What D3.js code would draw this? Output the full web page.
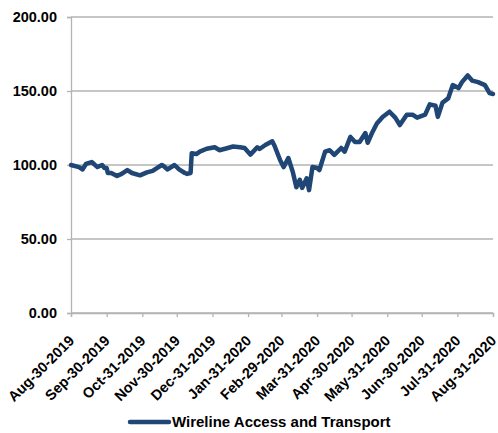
<!DOCTYPE html>
<html>
<head>
<meta charset="utf-8">
<script src="https://cdn.jsdelivr.net/npm/d3@7"></script>
<style>
    body { margin: 0; background: #fff; }
    text { font-family: "Liberation Sans", Arial, sans-serif; font-weight: bold; fill: #000; }
</style>
</head>
<body>
<div id="wrapper"></div>
<script>
const seriesName = "Wireline Access and Transport";

const dates = [
    "2019-08-30","2019-09-06","2019-09-09","2019-09-12","2019-09-17","2019-09-22","2019-09-26","2019-09-28",
    "2019-09-30","2019-10-01","2019-10-04","2019-10-09","2019-10-13","2019-10-18","2019-10-22","2019-10-29",
    "2019-11-04","2019-11-09","2019-11-13","2019-11-17","2019-11-19","2019-11-22","2019-11-28","2019-12-02",
    "2019-12-07","2019-12-09","2019-12-12","2019-12-13","2019-12-17","2019-12-20","2019-12-26","2020-01-02",
    "2020-01-06","2020-01-11","2020-01-18","2020-01-24","2020-01-28","2020-02-02","2020-02-08","2020-02-10",
    "2020-02-15","2020-02-21","2020-02-23","2020-02-28","2020-03-02","2020-03-06","2020-03-10","2020-03-13",
    "2020-03-16","2020-03-18","2020-03-22","2020-03-24","2020-03-27","2020-03-31","2020-04-02","2020-04-07",
    "2020-04-11","2020-04-15","2020-04-21","2020-04-24","2020-04-29","2020-05-03","2020-05-07","2020-05-12",
    "2020-05-14","2020-05-18","2020-05-22","2020-05-27","2020-06-02","2020-06-07","2020-06-11","2020-06-17",
    "2020-06-22","2020-06-26","2020-07-03","2020-07-07","2020-07-12","2020-07-14","2020-07-18","2020-07-23",
    "2020-07-27","2020-08-01","2020-08-04","2020-08-09","2020-08-13","2020-08-18","2020-08-24","2020-08-28",
    "2020-08-31"
];

const values = [
    100.0, 98.6, 97.0, 100.7, 102.0, 98.6, 100.0, 98.0,
    98.0, 94.6, 94.6, 92.6, 94.0, 96.6, 94.6, 93.0,
    95.0, 96.0, 98.0, 100.0, 99.0, 97.0, 100.0, 97.0,
    94.6, 94.0, 94.6, 108.0, 107.4, 109.0, 111.0, 112.0,
    110.0, 111.0, 112.5, 112.0, 111.5, 107.0, 112.0, 110.8,
    113.5, 116.0, 113.0, 103.0, 98.6, 104.7, 95.0, 85.0,
    90.0, 84.5, 91.0, 83.0, 98.6, 98.0, 96.6, 109.0,
    110.0, 106.8, 111.5, 109.0, 119.0, 115.5, 115.5, 121.6,
    115.0, 122.0, 128.0, 132.4, 136.0, 132.0, 127.0, 134.0,
    134.0, 132.0, 134.0, 141.0, 140.0, 132.5, 142.0, 145.0,
    154.0, 152.0, 156.0, 160.5, 157.0, 156.0, 154.0, 148.6,
    148.0
];

const tickDates = [
    "2019-08-30","2019-09-30","2019-10-31","2019-11-30","2019-12-31","2020-01-31","2020-02-29",
    "2020-03-31","2020-04-30","2020-05-31","2020-06-30","2020-07-31","2020-08-31"
];
const yTicks = [0, 50, 100, 150, 200];

const parse = d3.timeParse("%Y-%m-%d");
const fmt = d3.timeFormat("%b-%d-%Y");
const data = dates.map((d, i) => ({ date: parse(d), value: values[i] }));

const dimension = {
    width: 498,
    height: 433,
    margin: { top: 17, right: 5, bottom: 120, left: 71 }
};
dimension.boundedWidth = dimension.width - dimension.margin.left - dimension.margin.right;
dimension.boundedHeight = dimension.height - dimension.margin.top - dimension.margin.bottom;

const x = d3.scaleTime()
    .domain([parse(tickDates[0]), parse(tickDates[tickDates.length - 1])])
    .range([0, dimension.boundedWidth]);

const y = d3.scaleLinear()
    .domain([0, 200])
    .range([dimension.boundedHeight, 0]);

const svg = d3.select("#wrapper")
    .append("svg")
    .attr("width", dimension.width)
    .attr("height", dimension.height);

const bounds = svg.append("g")
    .attr("transform", `translate(${dimension.margin.left},${dimension.margin.top})`);

// horizontal gridlines
bounds.append("g")
    .selectAll("line")
    .data(yTicks)
    .enter()
    .append("line")
    .attr("x1", 0)
    .attr("x2", dimension.boundedWidth)
    .attr("y1", d => y(d))
    .attr("y2", d => y(d))
    .attr("stroke", "#b3b3b3")
    .attr("stroke-width", 1.3);

// y axis
const yAxis = bounds.append("g")
    .call(d3.axisLeft(y).tickValues(yTicks).tickSize(4).tickPadding(10).tickFormat(d3.format(".2f")));
yAxis.selectAll("path, line").attr("stroke", "#b3b3b3").attr("stroke-width", 1.3);
yAxis.selectAll("text").style("font-size", "14.5px").attr("fill", "#000");

// x axis
const xAxis = bounds.append("g")
    .attr("transform", `translate(0,${dimension.boundedHeight})`)
    .call(d3.axisBottom(x).tickValues(tickDates.map(parse)).tickSize(4).tickFormat(fmt));
xAxis.selectAll("path, line").attr("stroke", "#b3b3b3").attr("stroke-width", 1.3);
xAxis.selectAll("text")
    .style("font-size", "14.5px")
    .attr("fill", "#000")
    .style("text-anchor", "end")
    .attr("x", 0)
    .attr("y", 0)
    .attr("dx", 0)
    .attr("dy", "0.35em")
    .attr("transform", "translate(0,25) rotate(-45)");

// series line
const line = d3.line()
    .x(d => x(d.date))
    .y(d => y(d.value));

bounds.append("path")
    .datum(data)
    .attr("fill", "none")
    .attr("stroke", "#1f4674")
    .attr("stroke-width", 4.5)
    .attr("stroke-linejoin", "round")
    .attr("stroke-linecap", "round")
    .attr("d", line);

// legend
const legend = svg.append("g")
    .attr("transform", "translate(130,422)");
legend.append("line")
    .attr("x1", 0)
    .attr("x2", 39)
    .attr("stroke", "#1f4674")
    .attr("stroke-width", 4.5)
    .attr("stroke-linecap", "round");
legend.append("text")
    .attr("x", 42)
    .attr("dy", "0.36em")
    .style("font-size", "15px")
    .text(seriesName);
</script>
</body>
</html>
